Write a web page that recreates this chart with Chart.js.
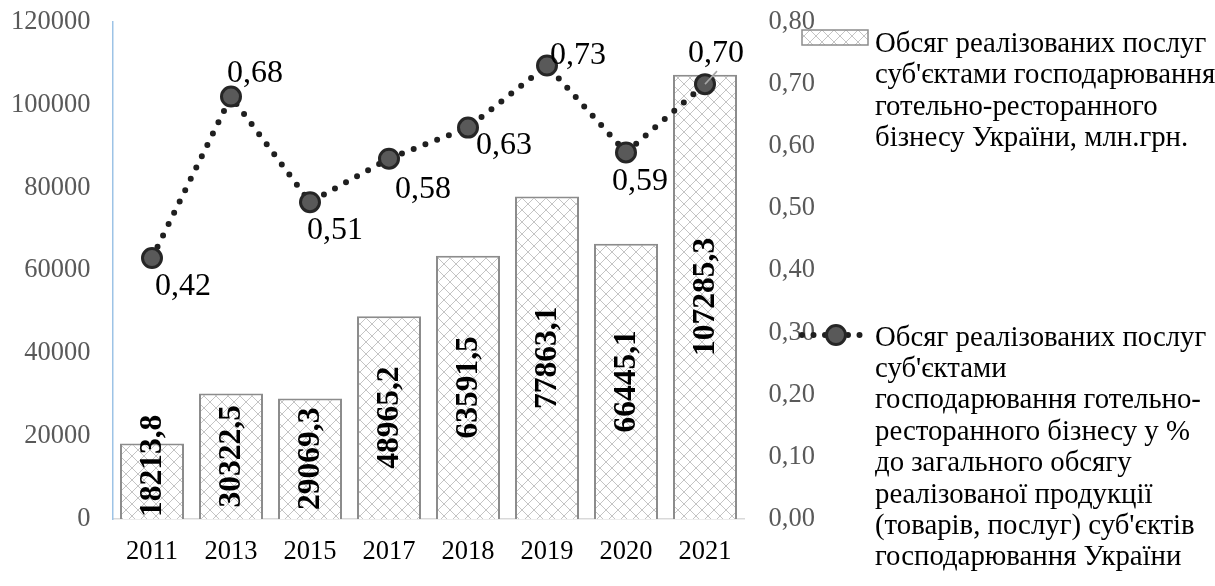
<!DOCTYPE html>
<html>
<head>
<meta charset="utf-8">
<script src="https://cdn.jsdelivr.net/npm/chart.js@4.4.1/dist/chart.umd.min.js"></script>
<style>
  html, body { margin: 0; padding: 0; background: #ffffff; }
  #wrap { width: 1215px; height: 586px; }
</style>
</head>
<body>
<div id="wrap"><canvas id="chart" width="1215" height="586"></canvas></div>
<script>
// Years on the category axis
const years = ['2011', '2013', '2015', '2017', '2018', '2019', '2020', '2021'];
// Sales of hotel and restaurant services, mln UAH
const salesVolume = [18213.8, 30322.5, 29069.3, 48965.2, 63591.5, 77863.1, 66445.1, 107285.3];
// Share of hotel and restaurant services in total sales, %
const shareOfTotal = [0.42, 0.68, 0.51, 0.58, 0.63, 0.73, 0.59, 0.70];
// Axis ticks
const leftTicks = [0, 20000, 40000, 60000, 80000, 100000, 120000];
const rightTicks = [0, 0.1, 0.2, 0.3, 0.4, 0.5, 0.6, 0.7, 0.8];
// Legend text, one entry per line
const barLegendLines = [
  'Обсяг реалізованих послуг',
  "суб'єктами господарювання",
  'готельно-ресторанного',
  'бізнесу України, млн.грн.'
];
const lineLegendLines = [
  'Обсяг реалізованих послуг',
  "суб'єктами",
  'господарювання готельно-',
  'ресторанного бізнесу у %',
  'до загального обсягу',
  'реалізованої продукції',
  "(товарів, послуг) суб'єктів",
  'господарювання України'
];

// Label placement around each line point (text centre relative to the point)
const lineLabelOffsets = [[31, 26], [24, -25], [25, 26], [34, 28], [36, 16], [31, -12], [14, 27], [11, -33]];

const SERIF = "'Liberation Serif', 'Times New Roman', serif";
const TICK_FONT = 26.5;
const LABEL_FONT = 32;
const BAR_LABEL_FONT = 31.5;
const LEGEND_FONT = 28.8;

const canvas = document.getElementById('chart');
const ctx = canvas.getContext('2d');

// Diagonal cross-hatch fill for the bars
function makeHatch() {
  const s = 12;
  const t = document.createElement('canvas');
  t.width = s; t.height = s;
  const g = t.getContext('2d');
  g.fillStyle = '#ffffff';
  g.fillRect(0, 0, s, s);
  g.strokeStyle = '#c4c4c4';
  g.lineWidth = 1;
  g.beginPath();
  g.moveTo(0, 0); g.lineTo(s, s);
  g.moveTo(s, 0); g.lineTo(0, s);
  g.stroke();
  return ctx.createPattern(t, 'repeat');
}
const hatch = makeHatch();

const fmtComma = (v, d) => v.toFixed(d).replace('.', ',');

// Value labels: rotated inside the bars, plain next to the line points
const valueLabels = {
  id: 'valueLabels',
  afterDatasetsDraw(chart) {
    const c = chart.ctx;
    const barMeta = chart.getDatasetMeta(0);
    c.save();
    c.font = `bold ${BAR_LABEL_FONT}px ${SERIF}`;
    c.fillStyle = '#000000';
    c.textAlign = 'center';
    c.textBaseline = 'middle';
    barMeta.data.forEach((bar, i) => {
      const txt = fmtComma(salesVolume[i], 1);
      const w = c.measureText(txt).width;
      let cy = (bar.y + bar.base) / 2;
      const maxBottom = bar.base - 2;
      if (cy + w / 2 > maxBottom) cy = maxBottom - w / 2;
      c.save();
      c.translate(bar.x + 1, cy);
      c.rotate(-Math.PI / 2);
      c.fillText(txt, 0, 0);
      c.restore();
    });
    c.restore();

    const lineMeta = chart.getDatasetMeta(1);
    c.save();
    c.font = `${LABEL_FONT}px ${SERIF}`;
    c.fillStyle = '#000000';
    c.textAlign = 'center';
    c.textBaseline = 'alphabetic';
    lineMeta.data.forEach((pt, i) => {
      const [dx, dy] = lineLabelOffsets[i];
      if (i === lineMeta.data.length - 1) {
        // short leader line from the last point to its label
        c.save();
        c.strokeStyle = '#a6a6a6';
        c.lineWidth = 1.5;
        c.beginPath();
        c.moveTo(pt.x, pt.y);
        c.lineTo(pt.x + 12, pt.y - 13);
        c.stroke();
        c.restore();
      }
      c.fillText(fmtComma(shareOfTotal[i], 2), pt.x + dx, pt.y + dy + LABEL_FONT * 0.34);
    });
    c.restore();
  }
};

// Legend on the right with wrapped text
const sideLegend = {
  id: 'sideLegend',
  afterDraw(chart) {
    const c = chart.ctx;
    c.save();
    // bar swatch
    c.fillStyle = hatch;
    c.fillRect(802, 30, 66, 15);
    c.strokeStyle = '#8c8c8c';
    c.lineWidth = 1.5;
    c.strokeRect(802, 30, 66, 15);
    // line swatch
    c.strokeStyle = '#1f1f1f';
    c.lineWidth = 6;
    c.lineCap = 'round';
    c.setLineDash([0, 11.5]);
    c.beginPath();
    c.moveTo(802, 335);
    c.lineTo(870, 335);
    c.stroke();
    c.setLineDash([]);
    c.beginPath();
    c.arc(836, 335, 9.5, 0, Math.PI * 2);
    c.fillStyle = '#595959';
    c.fill();
    c.lineWidth = 3;
    c.strokeStyle = '#262626';
    c.stroke();
    // text
    c.font = `${LEGEND_FONT}px ${SERIF}`;
    c.fillStyle = '#000000';
    c.textAlign = 'left';
    c.textBaseline = 'middle';
    barLegendLines.forEach((t, i) => c.fillText(t, 875, 44 + i * 31.6));
    lineLegendLines.forEach((t, i) => c.fillText(t, 875, 338 + i * 31.4));
    c.restore();
  }
};

new Chart(ctx, {
  data: {
    labels: years,
    datasets: [
      {
        type: 'bar',
        label: barLegendLines.join(' '),
        data: salesVolume,
        yAxisID: 'y',
        backgroundColor: hatch,
        borderColor: '#8c8c8c',
        borderWidth: 2,
        borderSkipped: 'start',
        barPercentage: 0.81,
        categoryPercentage: 1,
        order: 1
      },
      {
        type: 'line',
        label: lineLegendLines.join(' '),
        data: shareOfTotal,
        yAxisID: 'y1',
        borderColor: '#1f1f1f',
        borderWidth: 6,
        borderDash: [0, 12.6],
        borderCapStyle: 'round',
        tension: 0,
        fill: false,
        pointRadius: 9.5,
        pointBorderWidth: 3,
        pointBackgroundColor: '#595959',
        pointBorderColor: '#262626',
        order: 0
      }
    ]
  },
  options: {
    responsive: false,
    animation: false,
    devicePixelRatio: 1,
    layout: { padding: { left: 0, top: 22, right: 400.5, bottom: 0 } },
    plugins: {
      legend: { display: false },
      tooltip: { enabled: false }
    },
    scales: {
      x: {
        grid: { display: false, drawTicks: false },
        border: { display: true, color: '#d9d9d9', width: 1.5 },
        ticks: { color: '#000000', font: { family: SERIF, size: TICK_FONT }, padding: 17 },
        afterFit(scale) { scale.height = 67; }
      },
      y: {
        position: 'left',
        min: 0,
        max: 120000,
        grid: { display: false, drawTicks: false },
        border: { display: true, color: '#9dc3e6', width: 1.5 },
        afterBuildTicks(scale) { scale.ticks = leftTicks.map(v => ({ value: v })); },
        ticks: { color: '#595959', font: { family: SERIF, size: TICK_FONT }, padding: 22,
                 callback: v => String(v) },
        afterFit(scale) { scale.width = 112.5; scale.paddingTop = 0; scale.paddingBottom = 0; }
      },
      y1: {
        position: 'right',
        min: 0,
        max: 0.8,
        grid: { display: false, drawTicks: false },
        border: { display: false },
        afterBuildTicks(scale) { scale.ticks = rightTicks.map(v => ({ value: v })); },
        ticks: { color: '#595959', font: { family: SERIF, size: TICK_FONT }, padding: 24,
                 callback: v => fmtComma(v, 2) },
        afterFit(scale) { scale.width = 70; scale.paddingTop = 0; scale.paddingBottom = 0; }
      }
    }
  },
  plugins: [valueLabels, sideLegend]
});
</script>
</body>
</html>
